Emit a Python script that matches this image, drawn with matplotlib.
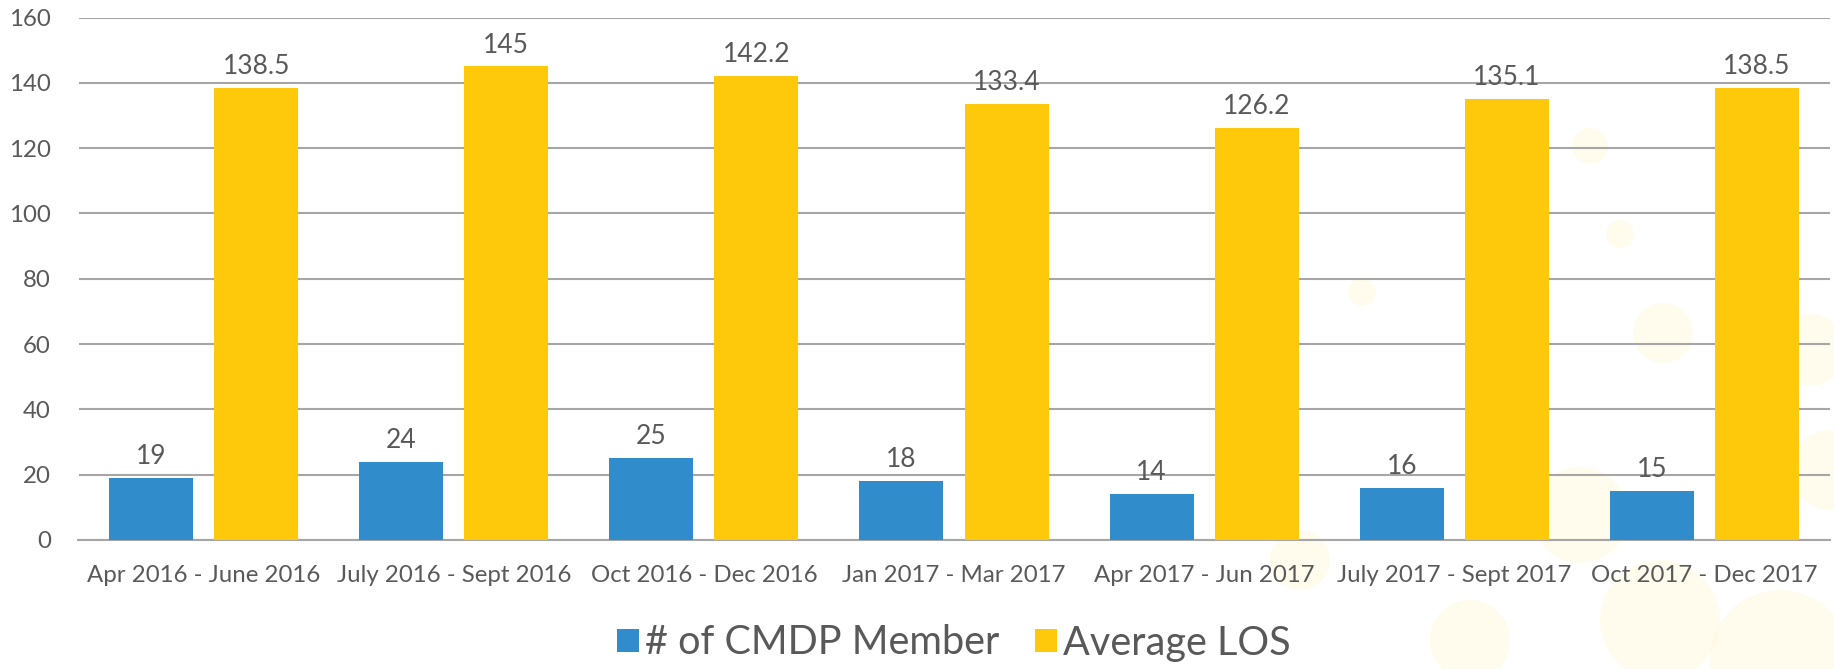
import numpy as np
import matplotlib.pyplot as plt
from matplotlib.patches import Ellipse

# ------------------------------------------------------------------ #
#   Data
# ------------------------------------------------------------------ #
quarters = [
    "Apr 2016 - June 2016",
    "July 2016 - Sept 2016",
    "Oct 2016 - Dec 2016",
    "Jan 2017 - Mar 2017",
    "Apr 2017 - Jun 2017",
    "July 2017 - Sept 2017",
    "Oct 2017 - Dec 2017",
]
members = [19, 24, 25, 18, 14, 16, 15]
avg_los = [138.5, 145, 142.2, 133.4, 126.2, 135.1, 138.5]
member_labels = ["19", "24", "25", "18", "14", "16", "15"]
los_labels = ["138.5", "145", "142.2", "133.4", "126.2", "135.1", "138.5"]
y_ticks = [0, 20, 40, 60, 80, 100, 120, 140, 160]

BLUE = "#318ccb"
YELLOW = "#fec90a"
TEXT = "#595959"
GRID = "#a6a6a6"

plt.rcParams["font.family"] = ["Lato", "DejaVu Sans"]

W, H = 1834, 669
fig = plt.figure(figsize=(W / 100, H / 100), dpi=100)
ax = fig.add_axes([78.5 / W, (H - 540) / H, (1829.5 - 78.5) / W, (540 - 17.5) / H])
ax.set_facecolor("none")

# faint decorative bubbles in the background (right side), pixel units
bubbles = [
    (1590, 146, 18), (1620, 234, 14), (1663, 333, 30), (1750, 250, 22),
    (1810, 350, 36), (1362, 292, 14), (1580, 515, 48), (1660, 620, 60),
    (1780, 660, 70), (1300, 560, 30), (1830, 470, 40), (1470, 640, 40),
]
for bx, by, br in bubbles:
    fig.patches.append(Ellipse((bx / W, 1 - by / H), 2 * br / W, 2 * br / H,
                               transform=fig.transFigure, facecolor="#fff6d2",
                               edgecolor="none", alpha=0.4, zorder=-1))

x = np.arange(len(quarters))
bw = 0.336
off = 0.21
b1 = ax.bar(x - off, members, bw, color=BLUE, label="# of CMDP Member", zorder=3)
b2 = ax.bar(x + off, avg_los, bw, color=YELLOW, label="Average LOS", zorder=3)

for bars, labels in ((b1, member_labels), (b2, los_labels)):
    for rect, lab in zip(bars, labels):
        ax.annotate(lab, (rect.get_x() + rect.get_width() / 2, rect.get_height()),
                    xytext=(0, 10), textcoords="offset points", ha="center",
                    va="baseline", fontsize=19, color=TEXT)

ax.set_xlim(-0.5, len(quarters) - 0.5)
ax.set_ylim(0, 160)
ax.set_yticks(y_ticks)
ax.set_xticks(x)
ax.set_xticklabels(quarters)
ax.tick_params(axis="both", length=0, labelsize=17.3, colors=TEXT)
ax.tick_params(axis="x", pad=18)
ax.tick_params(axis="y", pad=20)
ax.yaxis.grid(True, color=GRID, linewidth=1.5, zorder=0)
ax.set_axisbelow(True)
for side in ("top", "right", "left"):
    ax.spines[side].set_visible(False)
ax.spines["bottom"].set_color(GRID)
ax.spines["bottom"].set_linewidth(1.5)

fig.legend(handles=[b1, b2], loc="center", bbox_to_anchor=(954 / W, 1 - 643 / H),
           ncol=2, frameon=False, fontsize=28.5, labelcolor=TEXT,
           handlelength=0.55, handleheight=0.55, handletextpad=0.15, columnspacing=0.9)

fig.savefig("out.png", dpi=100)
